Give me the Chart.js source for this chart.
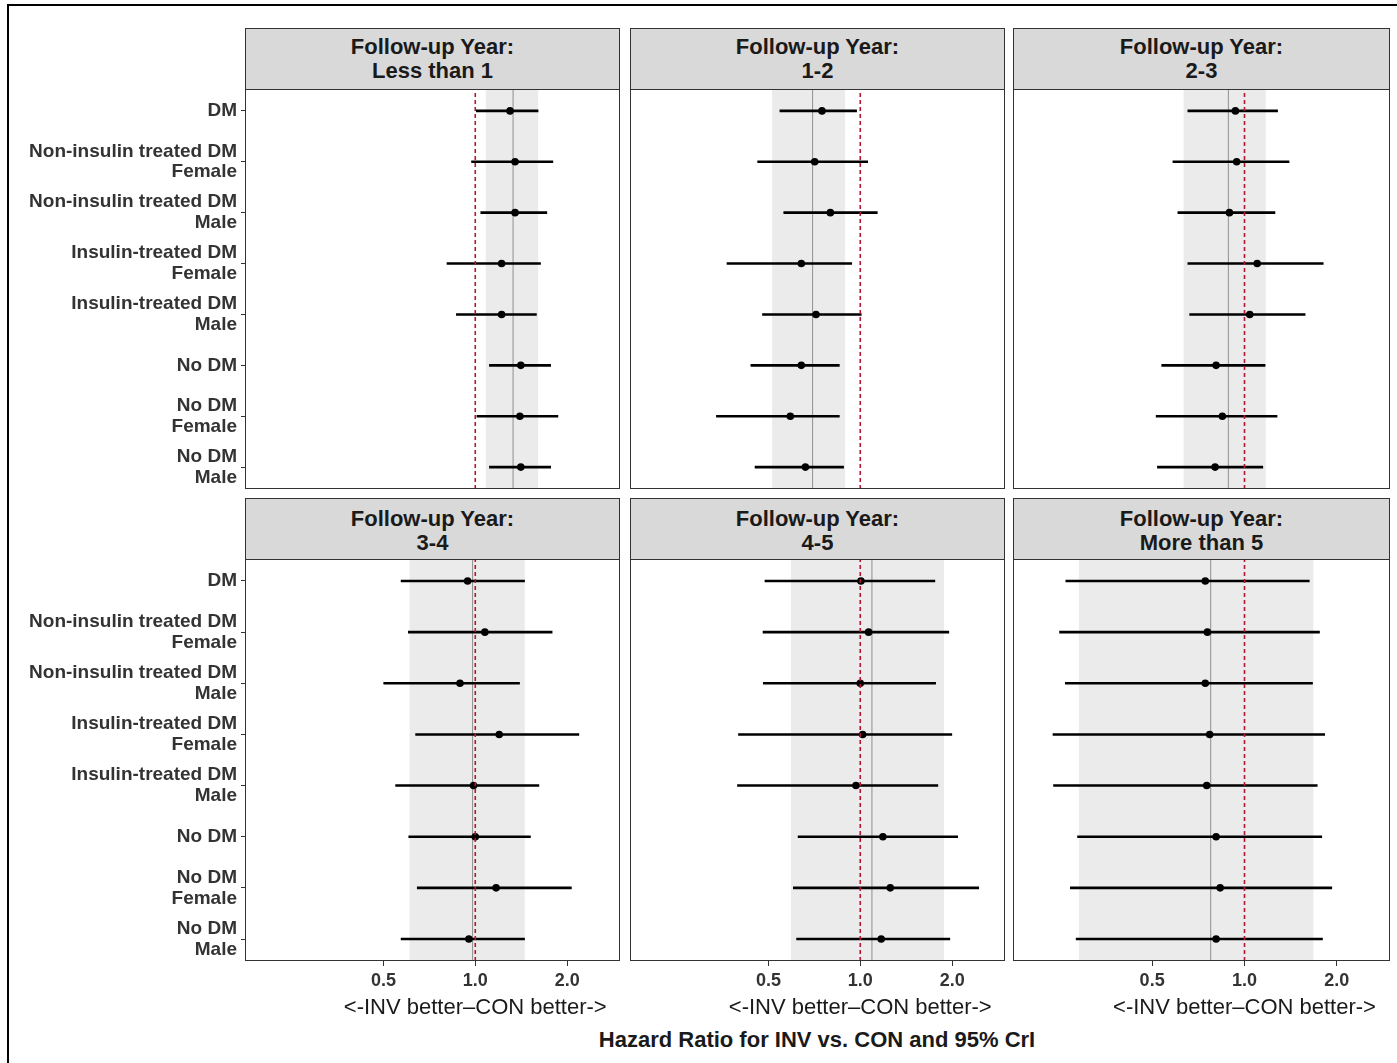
<!DOCTYPE html>
<html>
<head>
<meta charset="utf-8">
<script src="https://cdn.jsdelivr.net/npm/chart.js@4.4.1/dist/chart.umd.min.js"></script>
<style>
  body { margin: 0; background: #fff; width: 1397px; height: 1063px; position: relative; overflow: hidden;
         font-family: "Liberation Sans", Arial, Helvetica, sans-serif; }
  .frame { position: absolute; left: 7px; top: 4px; width: 1400px; height: 1070px;
           border-top: 2px solid #000; border-left: 2px solid #000; }
  canvas { position: absolute; }
  .strip { position: absolute; background: #d9d9d9; border: 1px solid #333; box-sizing: border-box;
           text-align: center; font-weight: bold; font-size: 22px; line-height: 24px; color: #1a1a1a; }
  .panel { position: absolute; border: 1px solid #333; box-sizing: border-box; pointer-events: none; }
  .xlab { position: absolute; top: 994px; font-size: 22px; color: #1a1a1a; transform: translateX(-50%); white-space: nowrap; }
  .title { position: absolute; top: 1027px; left: 817px; font-size: 22px; font-weight: bold; color: #1a1a1a;
           transform: translateX(-50%); white-space: nowrap; }
</style>
</head>
<body>
<div class="frame"></div>
<div class="title">Hazard Ratio for INV vs. CON and 95% CrI</div>
<script>
// subgroups, top to bottom
const CATEGORIES = [
  'DM',
  ['Non-insulin treated DM', 'Female'],
  ['Non-insulin treated DM', 'Male'],
  ['Insulin-treated DM', 'Female'],
  ['Insulin-treated DM', 'Male'],
  'No DM',
  ['No DM', 'Female'],
  ['No DM', 'Male']
];
const PANEL_TITLES = ['Less than 1', '1-2', '2-3', '3-4', '4-5', 'More than 5'];
const X_TICKS = [0.5, 1, 2];
const NULL_HR = 1;

// hazard ratio estimates per panel (rows follow CATEGORIES)
const EST = [
  [1.30, 1.35, 1.35, 1.22, 1.22, 1.41, 1.40, 1.41],
  [0.749, 0.709, 0.798, 0.641, 0.716, 0.641, 0.59, 0.661],
  [0.934, 0.943, 0.893, 1.10, 1.04, 0.808, 0.847, 0.802],
  [0.944, 1.075, 0.891, 1.198, 0.987, 1.0, 1.17, 0.953],
  [1.005, 1.065, 1.0, 1.018, 0.968, 1.186, 1.254, 1.171],
  [0.745, 0.757, 0.745, 0.77, 0.753, 0.808, 0.833, 0.808]
];
const LOWER = [
  [1.005, 0.97, 1.04, 0.806, 0.865, 1.11, 1.01, 1.11],
  [0.544, 0.46, 0.56, 0.365, 0.477, 0.437, 0.337, 0.451],
  [0.652, 0.583, 0.605, 0.652, 0.661, 0.536, 0.514, 0.519],
  [0.57, 0.602, 0.50, 0.636, 0.547, 0.604, 0.644, 0.57],
  [0.486, 0.479, 0.48, 0.398, 0.395, 0.624, 0.602, 0.617],
  [0.261, 0.249, 0.26, 0.237, 0.238, 0.285, 0.27, 0.282]
];
const UPPER = [
  [1.61, 1.80, 1.72, 1.64, 1.59, 1.77, 1.87, 1.77],
  [0.975, 1.06, 1.14, 0.94, 1.01, 0.856, 0.856, 0.884],
  [1.285, 1.40, 1.26, 1.81, 1.58, 1.17, 1.28, 1.15],
  [1.454, 1.79, 1.40, 2.19, 1.62, 1.52, 2.07, 1.454],
  [1.76, 1.955, 1.77, 2.0, 1.80, 2.09, 2.45, 1.97],
  [1.63, 1.76, 1.67, 1.83, 1.73, 1.79, 1.93, 1.80]
];
// overall estimate and its CrI (grey line + shaded band)
const OVERALL = [1.33, 0.698, 0.886, 0.98, 1.092, 0.776];
const BAND_LO = [1.08, 0.514, 0.632, 0.608, 0.593, 0.288];
const BAND_HI = [1.61, 0.893, 1.174, 1.454, 1.883, 1.68];

Chart.defaults.font.family = '"Liberation Sans", Arial, Helvetica, sans-serif';
Chart.defaults.animation = false;

const COLS = [[245, 620], [630, 1005], [1013, 1390]];
const ROWS = [[28, 89, 489, 6], [498, 559, 961, 8]];

PANEL_TITLES.forEach((title, p) => {
  const col = p % 3, row = Math.floor(p / 3);
  const [l, r] = COLS[col];
  const [st, top, bot, pad] = ROWS[row];
  const showY = col === 0, showX = row === 1;

  const strip = document.createElement('div');
  strip.className = 'strip';
  Object.assign(strip.style, { left: l + 'px', top: st + 'px', width: (r - l) + 'px', height: (top - st + 1) + 'px', paddingTop: pad + 'px' });
  strip.innerHTML = 'Follow-up Year:<br>' + title;
  document.body.appendChild(strip);

  const cv = document.createElement('canvas');
  const cl = showY ? 0 : l;
  const cw = r - cl, ch = bot - top + (showX ? 34 : 0);
  cv.width = cw; cv.height = ch;
  Object.assign(cv.style, { left: cl + 'px', top: top + 'px', width: cw + 'px', height: ch + 'px' });
  document.body.appendChild(cv);

  const ci = [];
  CATEGORIES.forEach((_, i) => {
    ci.push({ x: LOWER[p][i], y: i }, { x: UPPER[p][i], y: i }, { x: null, y: null });
  });

  const chart = new Chart(cv, {
    type: 'line',
    data: {
      datasets: [
        { data: [{ x: BAND_LO[p], y: 1 }, { x: BAND_HI[p], y: 1 }], yAxisID: 'yb', fill: 'origin',
          backgroundColor: '#ebebeb', borderWidth: 0, pointRadius: 0, order: 5 },
        { data: [{ x: OVERALL[p], y: 0 }, { x: OVERALL[p], y: 1 }], yAxisID: 'yb',
          borderColor: '#8f8f8f', borderWidth: 1, pointRadius: 0, order: 4 },
        { data: ci, borderColor: '#000', borderWidth: 2.6, pointRadius: 0, spanGaps: false, order: 3 },
        { data: EST[p].map((v, i) => ({ x: v, y: i })), showLine: false, pointRadius: 3.8,
          pointBackgroundColor: '#000', pointBorderWidth: 0, order: 2 },
        { data: [{ x: NULL_HR, y: 0 }, { x: NULL_HR, y: 1 }], yAxisID: 'yb', borderColor: '#b2182b',
          borderWidth: 1.6, borderDash: [4, 3], pointRadius: 0, order: 1 }
      ]
    },
    options: {
      responsive: false,
      devicePixelRatio: 1,
      events: [],
      layout: { padding: 0, autoPadding: false },
      plugins: { legend: { display: false }, tooltip: { enabled: false } },
      scales: {
        x: {
          type: 'logarithmic', min: 0.176, max: 2.98, display: showX,
          afterBuildTicks: s => { s.ticks = X_TICKS.map(v => ({ value: v })); },
          afterFit: s => {
            if (showX) s.height = 34;
            s.paddingLeft = 0; s.paddingRight = 0;
          },
          ticks: { callback: v => Number(v).toFixed(1), color: '#333', padding: 4,
                   font: { size: 18, weight: 'bold' }, maxRotation: 0 },
          grid: { drawOnChartArea: false, tickLength: 5, color: '#333' },
          border: { display: false }
        },
        y: {
          type: 'linear', reverse: true, min: -0.43, max: 7.43, display: showY,
          afterBuildTicks: s => { s.ticks = CATEGORIES.map((_, i) => ({ value: i })); },
          afterFit: s => {
            if (showY) s.width = 245;
            s.paddingTop = 0; s.paddingBottom = 0;
          },
          ticks: { callback: v => CATEGORIES[v], color: '#333', padding: 4,
                   font: { size: 19, weight: 'bold', lineHeight: 1.1 } },
          grid: { drawOnChartArea: false, tickLength: 4, color: '#333' },
          border: { display: false }
        },
        yb: { type: 'linear', min: 0, max: 1, display: false }
      }
    }
  });

  const frame = document.createElement('div');
  frame.className = 'panel';
  Object.assign(frame.style, { left: l + 'px', top: top + 'px', width: (r - l) + 'px', height: (bot - top) + 'px' });
  document.body.appendChild(frame);

  if (showX) {
    const lab = document.createElement('div');
    lab.className = 'xlab';
    lab.textContent = '<-INV better\u2013CON better->';
    lab.style.left = (cl + chart.scales.x.getPixelForValue(NULL_HR)) + 'px';
    document.body.appendChild(lab);
  }
});
</script>
</body>
</html>
